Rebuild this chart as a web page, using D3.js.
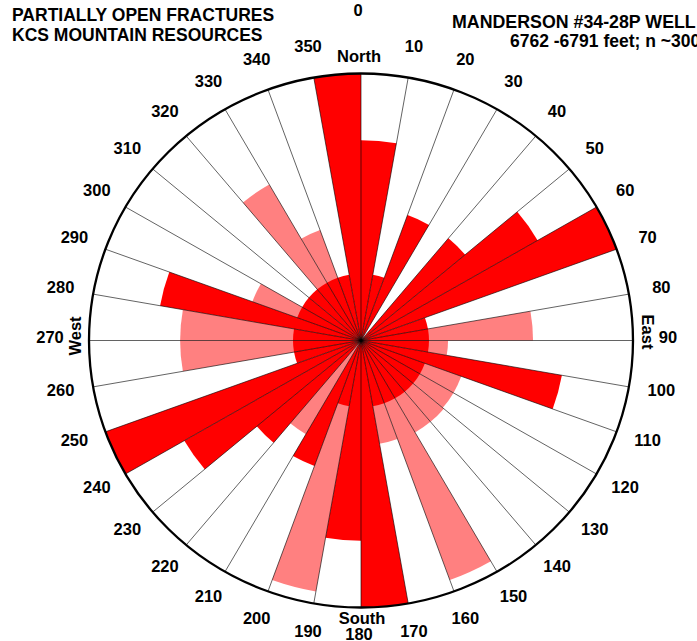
<!DOCTYPE html>
<html>
<head>
<meta charset="utf-8">
<script src="https://cdn.jsdelivr.net/npm/d3@7"></script>
<style>
body{margin:0;background:#fff}
svg{display:block}
text{font-family:"Liberation Sans",Arial,Helvetica,sans-serif;font-weight:bold;fill:#000}
</style>
</head>
<body>
<div id="chart"></div>
<script>
// 10 degree azimuth bins (start of bin), strike is bidirectional
var binStarts = [0,10,20,30,40,50,60,70,80,90,100,110,120,130,140,150,160,170];
// partially open fractures per bin, drawn at azimuth and azimuth+180
var openCounts = [3,1,2,0,2,3,4,1,1,1,3,1,1,1,1,1,1,4];

// light rose underneath, one value per bin all the way round
var allBins = [0,10,20,30,40,50,60,70,80,90,100,110,120,130,140,150,160,170,
               180,190,200,210,220,230,240,250,260,270,280,290,300,310,320,330,340,350];
var lightCounts = [0,0,0,0,0,0,0,0,2.53,1.28,0,1.57,1.57,1.59,1.59,3.82,1.57,0,
                   0,3.82,0,1.62,0,0,0,0,2.66,2.66,0,1.7,0,0,2.7,1.76,0,0];

var tickAngles = [10,20,30,40,50,60,70,80,100,110,120,130,140,150,160,170,
                  190,200,210,220,230,240,250,260,280,290,300,310,320,330,340,350];

var width = 697, height = 641;
var cx = 361, cy = 340.5, R = 272;
var squash = 267 / 272;

var svg = d3.select("#chart").append("svg")
    .attr("width", width)
    .attr("height", height);

svg.append("rect").attr("width", width).attr("height", height).attr("fill", "#fff");

var r = d3.scaleLinear().domain([0, 4]).range([0, R]);
var rad = function(a){ return a * Math.PI / 180; };

var arc = d3.arc()
    .innerRadius(0)
    .outerRadius(function(d){ return r(d.value); })
    .startAngle(function(d){ return rad(d.az); })
    .endAngle(function(d){ return rad(d.az + 10); });

var rose = svg.append("g")
    .attr("transform", "translate(" + cx + "," + cy + ") scale(1," + squash + ")");

// pink layer
var light = allBins.map(function(a, i){ return {az: a, value: lightCounts[i]}; })
    .filter(function(d){ return d.value > 0; });
rose.selectAll("path.light")
    .data(light).enter()
    .append("path")
    .attr("class", "light")
    .attr("d", arc)
    .attr("fill", "#ff8080");

// red bidirectional layer
var open = [];
binStarts.forEach(function(a, i){
    if (openCounts[i] > 0) {
        open.push({az: a, value: openCounts[i]});
        open.push({az: a + 180, value: openCounts[i]});
    }
});
rose.selectAll("path.open")
    .data(open).enter()
    .append("path")
    .attr("class", "open")
    .attr("d", arc)
    .attr("fill", "#ff0000");

// spokes every 10 degrees
rose.selectAll("line.spoke")
    .data(allBins).enter()
    .append("line")
    .attr("class", "spoke")
    .attr("x1", 0).attr("y1", 0)
    .attr("x2", function(d){ return R * Math.sin(rad(d)); })
    .attr("y2", function(d){ return -R * Math.cos(rad(d)); })
    .attr("stroke", "#000")
    .attr("stroke-opacity", 0.62)
    .attr("stroke-width", 1);

rose.append("circle")
    .attr("r", R)
    .attr("fill", "none")
    .attr("stroke", "#000")
    .attr("stroke-width", 2.3);

// degree labels
var lx = function(a){ return cx + 305 * Math.sin(rad(a)); };
var ly = function(a){ return cy - 2 - 297 * Math.cos(rad(a)); };
svg.selectAll("text.tick")
    .data(tickAngles).enter()
    .append("text")
    .attr("class", "tick")
    .attr("x", lx)
    .attr("y", ly)
    .attr("text-anchor", "middle")
    .attr("dy", "0.36em")
    .style("font-size", "16.5px")
    .text(function(d){ return d; });

var cardinal = [
    {t: "0", x: 358, y: 16},
    {t: "North", x: 359, y: 62},
    {t: "South", x: 362, y: 624},
    {t: "180", x: 359, y: 640},
    {t: "90", x: 668, y: 343},
    {t: "270", x: 50, y: 343}
];
svg.selectAll("text.card")
    .data(cardinal).enter()
    .append("text")
    .attr("class", "card")
    .attr("x", function(d){ return d.x; })
    .attr("y", function(d){ return d.y; })
    .attr("text-anchor", "middle")
    .style("font-size", "16.5px")
    .text(function(d){ return d.t; });

svg.append("text")
    .attr("transform", "translate(642,332) rotate(90)")
    .attr("text-anchor", "middle")
    .style("font-size", "16.5px")
    .text("East");
svg.append("text")
    .attr("transform", "translate(81,336) rotate(-90)")
    .attr("text-anchor", "middle")
    .style("font-size", "16.5px")
    .text("West");

// titles
svg.append("text").attr("x", 12).attr("y", 21).style("font-size", "17.5px")
    .text("PARTIALLY OPEN FRACTURES");
svg.append("text").attr("x", 12).attr("y", 41).style("font-size", "17.5px")
    .text("KCS MOUNTAIN RESOURCES");
svg.append("text").attr("x", 452).attr("y", 28).style("font-size", "17.8px")
    .text("MANDERSON #34-28P WELL");
svg.append("text").attr("x", 510).attr("y", 47).style("font-size", "17.5px")
    .text("6762 -6791 feet; n ~300");
</script>
</body>
</html>
